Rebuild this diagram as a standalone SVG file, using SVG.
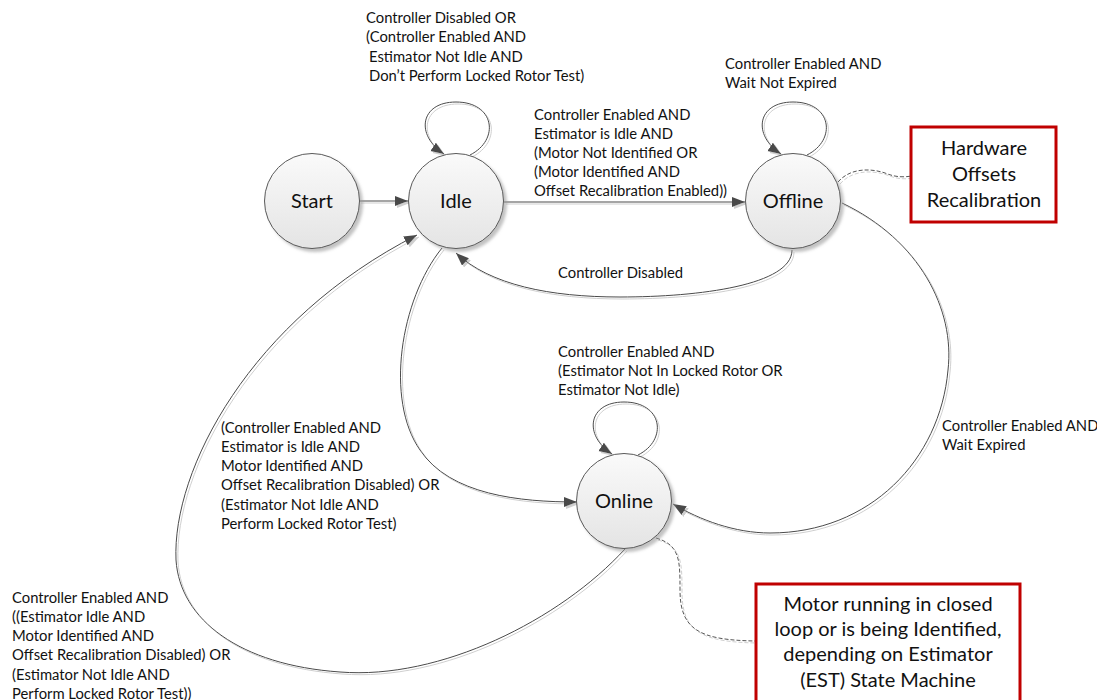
<svg xmlns="http://www.w3.org/2000/svg" width="1097" height="700" viewBox="0 0 1097 700">
<style>
  .lbl { font-family: Lato, "Liberation Sans", sans-serif; font-size: 14.8px; fill: #111; font-weight: 400; }
  .node-t { font-family: Lato, "Liberation Sans", sans-serif; font-size: 20px; fill: #111; text-anchor: middle; font-weight: 400; }
  .box-t { font-family: Lato, "Liberation Sans", sans-serif; font-size: 20px; fill: #111; text-anchor: middle; font-weight: 400; }
  .state { fill: url(#g); stroke: #595959; stroke-width: 1; filter: url(#sh); }
  .conn { fill: none; stroke: #4a4a4a; stroke-width: 1; }
  .dash { fill: none; stroke: #555; stroke-width: 1; stroke-dasharray: 4 2; }
  .box { fill: #fff; stroke: #c00000; stroke-width: 3; }
</style>
<defs>
  <linearGradient id="g" x1="0" y1="0" x2="0" y2="1">
    <stop offset="0" stop-color="#fafafa"/>
    <stop offset="1" stop-color="#e4e4e4"/>
  </linearGradient>
  <filter id="sh" x="-20%" y="-20%" width="150%" height="150%">
    <feDropShadow dx="3" dy="3" stdDeviation="1.5" flood-color="#9a9a9a" flood-opacity="0.6"/>
  </filter>
  <filter id="lsh" x="-10%" y="-10%" width="120%" height="120%">
    <feOffset in="SourceAlpha" dx="2" dy="2" result="o"/>
    <feFlood flood-color="#cfcfcf"/>
    <feComposite in2="o" operator="in" result="s"/>
    <feMerge><feMergeNode in="s"/><feMergeNode in="SourceGraphic"/></feMerge>
  </filter>
  <marker id="arr" markerUnits="userSpaceOnUse" markerWidth="14" markerHeight="11" refX="13" refY="5" orient="auto">
    <path d="M0,0 L13,5 L0,10 z" fill="#4a4a4a"/>
  </marker>
</defs>

<g id="connectors" filter="url(#lsh)">
  <path class="conn" d="M359 201 L408 201" marker-end="url(#arr)"/>
  <path class="conn" d="M504 202 L745 202" marker-end="url(#arr)"/>
  <path class="conn" d="M470 155 C500 140 495 102 456 102 C420 102 415 135 444 154" marker-end="url(#arr)"/>
  <path class="conn" d="M807 155 C837 140 832 102 793 102 C757 102 752 135 781 154" marker-end="url(#arr)"/>
  <path class="conn" d="M638 455 C668 440 663 402 624 402 C588 402 583 435 612 454" marker-end="url(#arr)"/>
  <path class="conn" d="M792 250 C792 285 700 297 620 297 C550 297 490 285 456 253" marker-end="url(#arr)"/>
  <path class="conn" d="M442 248 C400 300 385 400 420 450 C450 495 520 502 577 502" marker-end="url(#arr)"/>
  <path class="conn" d="M842 203 C920 240 955 310 948 370 C940 460 870 533 770 533 C735 533 700 520 673 504" marker-end="url(#arr)"/>
  <path class="conn" d="M625 549 C560 620 440 680 340 672 C240 665 180 620 176 560 C172 470 250 320 417 235" marker-end="url(#arr)"/>
  <path class="dash" d="M838 182 C850 168 870 168 885 173 C897 178 905 177 912 176"/>
  <path class="dash" d="M656 538 C680 545 680 560 680 590 C680 630 700 640 755 641"/>
</g>

<g id="start"><circle class="state" cx="312" cy="201" r="47.5"/><text class="node-t" x="312" y="208">Start</text></g>
<g id="idle"><circle class="state" cx="456" cy="201" r="47.5"/><text class="node-t" x="456" y="208">Idle</text></g>
<g id="offline"><circle class="state" cx="793" cy="201" r="47.5"/><text class="node-t" x="793" y="208">Offline</text></g>
<g id="online"><circle class="state" cx="624" cy="501" r="47.5"/><text class="node-t" x="624" y="508">Online</text></g>

<g id="note-hw">
  <rect class="box" x="911" y="127" width="145" height="95"/>
  <text class="box-t" x="984" y="155">Hardware</text>
  <text class="box-t" x="984" y="181">Offsets</text>
  <text class="box-t" x="984" y="207">Recalibration</text>
</g>
<g id="note-online">
  <rect class="box" x="756" y="584" width="264" height="120"/>
  <text class="box-t" x="888" y="611">Motor running in closed</text>
  <text class="box-t" x="888" y="636">loop or is being Identified,</text>
  <text class="box-t" x="888" y="661">depending on Estimator</text>
  <text class="box-t" x="888" y="687">(EST) State Machine</text>
</g>

<g id="labels">
  <text class="lbl" x="366" y="23">Controller Disabled OR</text>
  <text class="lbl" x="366" y="42">(Controller Enabled AND</text>
  <text class="lbl" x="369" y="62">Estimator Not Idle AND</text>
  <text class="lbl" x="369" y="81">Don’t Perform Locked Rotor Test)</text>

  <text class="lbl" x="725" y="69">Controller Enabled AND</text>
  <text class="lbl" x="725" y="88">Wait Not Expired</text>

  <text class="lbl" x="534" y="120">Controller Enabled AND</text>
  <text class="lbl" x="534" y="139">Estimator is Idle AND</text>
  <text class="lbl" x="534" y="158">(Motor Not Identified OR</text>
  <text class="lbl" x="534" y="177">(Motor Identified AND</text>
  <text class="lbl" x="534" y="196">Offset Recalibration Enabled))</text>

  <text class="lbl" x="558" y="278">Controller Disabled</text>

  <text class="lbl" x="558" y="357">Controller Enabled AND</text>
  <text class="lbl" x="558" y="376">(Estimator Not In Locked Rotor OR</text>
  <text class="lbl" x="558" y="395">Estimator Not Idle)</text>

  <text class="lbl" x="221" y="433">(Controller Enabled AND</text>
  <text class="lbl" x="221" y="452">Estimator is Idle AND</text>
  <text class="lbl" x="221" y="471">Motor Identified AND</text>
  <text class="lbl" x="221" y="490">Offset Recalibration Disabled) OR</text>
  <text class="lbl" x="221" y="510">(Estimator Not Idle AND</text>
  <text class="lbl" x="221" y="529">Perform Locked Rotor Test)</text>

  <text class="lbl" x="942" y="431">Controller Enabled AND</text>
  <text class="lbl" x="942" y="450">Wait Expired</text>

  <text class="lbl" x="12" y="603">Controller Enabled AND</text>
  <text class="lbl" x="12" y="622">((Estimator Idle AND</text>
  <text class="lbl" x="12" y="641">Motor Identified AND</text>
  <text class="lbl" x="12" y="660">Offset Recalibration Disabled) OR</text>
  <text class="lbl" x="12" y="680">(Estimator Not Idle AND</text>
  <text class="lbl" x="12" y="699">Perform Locked Rotor Test))</text>
</g>
</svg>
